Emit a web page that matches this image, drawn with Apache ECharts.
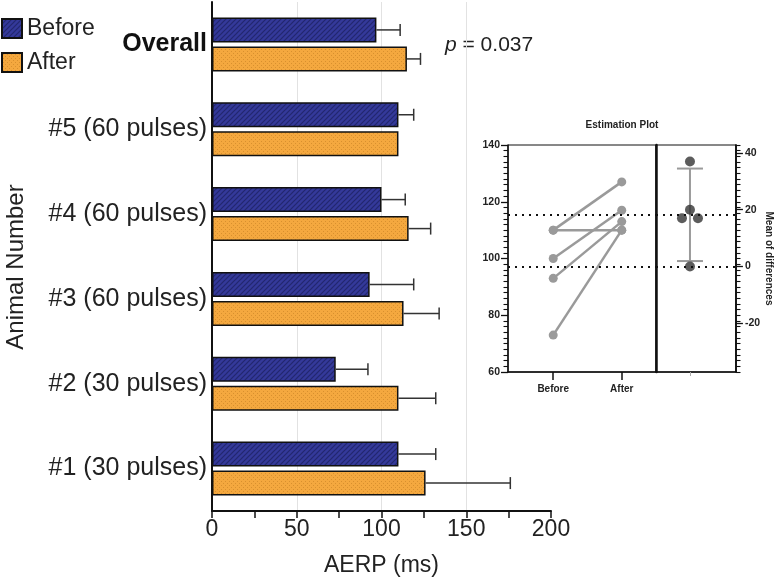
<!DOCTYPE html>
<html>
<head>
<meta charset="utf-8">
<script src="https://cdn.jsdelivr.net/npm/echarts@6/dist/echarts.min.js"></script>
<style>html,body{margin:0;padding:0;background:#fff;}#c{width:775px;height:582px;}</style>
</head>
<body>
<div id="c"></div>
<script>
// ---------- data ----------
var categories = ['Overall', '#5 (60 pulses)', '#4 (60 pulses)', '#3 (60 pulses)', '#2 (30 pulses)', '#1 (30 pulses)'];
var beforeVals = [97, 110, 100, 93, 73, 110];
var beforeErr  = [14, 9, 14, 26, 19, 22];
var afterVals  = [115, 110, 116, 113, 110, 126];
var afterErr   = [8, 0, 13, 21, 22, 50];
var xTicks = [0, 50, 100, 150, 200];

// estimation plot (animals #1..#5)
var estGroups = ['Before', 'After'];
var estBefore = [110, 73, 93, 100, 110];
var estAfter  = [127, 110, 113, 117, 110];
var estDiffs  = [17, 37, 20, 17, 0];
var meanBefore = 97.2;
var meanAfter = 115.4;
var meanDiff = 18.2;
var diffCI = [1.9, 34.5];
var leftTicks = [60, 80, 100, 120, 140];
var rightTicks = [-20, 0, 20, 40];
var pText = '0.037';

// ---------- patterns ----------
function hatch() {
  var c = document.createElement('canvas'); c.width = 5; c.height = 5;
  var g = c.getContext('2d');
  g.fillStyle = '#34399a'; g.fillRect(0, 0, 5, 5);
  g.strokeStyle = '#23276f'; g.lineWidth = 1.2;
  g.beginPath(); g.moveTo(-1, 6); g.lineTo(6, -1); g.stroke();
  g.beginPath(); g.moveTo(-1, 1); g.lineTo(1, -1); g.stroke();
  g.beginPath(); g.moveTo(4, 6); g.lineTo(6, 4); g.stroke();
  return c;
}
function dots() {
  var c = document.createElement('canvas'); c.width = 4; c.height = 4;
  var g = c.getContext('2d');
  g.fillStyle = '#f4a83f'; g.fillRect(0, 0, 4, 4);
  g.fillStyle = '#d8902e'; g.fillRect(1, 1, 1, 1); g.fillRect(3, 3, 1, 1);
  return c;
}
var beforeFill = { image: hatch(), repeat: 'repeat' };
var afterFill = { image: dots(), repeat: 'repeat' };

var FONT = 'Liberation Sans';
var BAR_W = 25, BAR_GAP = 4;

function errRender(sign) {
  return function (params, api) {
    var cat = api.value(0), v = api.value(1), e = api.value(2);
    if (!e) return;
    var p0 = api.coord([v, cat]);
    var p1 = api.coord([v + e, cat]);
    var y = p0[1] + sign * (BAR_W + BAR_GAP) / 2;
    var st = { stroke: '#333', lineWidth: 1.5 };
    return { type: 'group', children: [
      { type: 'line', shape: { x1: p0[0], y1: y, x2: p1[0], y2: y }, style: st },
      { type: 'line', shape: { x1: p1[0], y1: y - 6, x2: p1[0], y2: y + 6 }, style: st }
    ]};
  };
}

// jitter duplicates in the difference swarm
var diffSeen = {};
var diffData = estDiffs.map(function (d) {
  var n = estDiffs.filter(function (x) { return x === d; }).length;
  var k = diffSeen[d] = (diffSeen[d] || 0) + 1;
  var off = n > 1 ? (k - (n + 1) / 2) * 16 : 0;
  return { value: [0, d], symbolOffset: [off, 0] };
});

var dotted = { color: '#111', width: 2, type: [2, 5] };
var inFont = { fontFamily: FONT, fontWeight: 'bold', fontSize: 10.5, color: '#222' };
var lMin = leftTicks[0], lMax = leftTicks[leftTicks.length - 1];
var rMin = lMin - meanBefore, rMax = lMax - meanBefore;

var option = {
  animation: false,
  textStyle: { fontFamily: FONT },
  legend: {
    left: 1, top: 17, padding: 0, orient: 'vertical', itemWidth: 20, itemHeight: 19, itemGap: 11,
    icon: 'rect',
    textStyle: { fontFamily: FONT, fontSize: 23, color: '#222' },
    data: ['Before', 'After']
  },
  graphic: [
    { type: 'text', x: 16, y: 267, rotation: Math.PI / 2,
      style: { text: 'Animal Number', fontFamily: FONT, fontSize: 24, fill: '#222', align: 'center', verticalAlign: 'middle' } },
    { type: 'text', x: 445, y: 45,
      style: { text: '{i|p} = ' + pText, fontFamily: FONT, fontSize: 21, fill: '#222', verticalAlign: 'middle',
        rich: { i: { fontStyle: 'italic', fontFamily: FONT, fontSize: 21, fill: '#222' } } } },
    { type: 'text', x: 622, y: 125,
      style: { text: 'Estimation Plot', fontFamily: FONT, fontWeight: 'bold', fontSize: 10, fill: '#222', align: 'center', verticalAlign: 'middle' } }
  ],
  grid: [
    { left: 212, top: 2, width: 339, height: 510 },
    { left: 508, top: 145, width: 148, height: 227, show: true, borderColor: '#111', borderWidth: 1, backgroundColor: 'transparent' },
    { left: 656, top: 145, width: 80, height: 227, show: true, borderColor: '#111', borderWidth: 1, backgroundColor: 'transparent' },
    { left: 656, top: 145, width: 80, height: 227 }
  ],
  xAxis: [
    { gridIndex: 0, type: 'value', min: xTicks[0], max: xTicks[xTicks.length - 1], interval: 50,
      axisLine: { show: true, lineStyle: { color: '#111', width: 2 } },
      axisTick: { show: true, length: 7, lineStyle: { color: '#111', width: 1.5 } },
      minorTick: { show: true, splitNumber: 2, length: 7, lineStyle: { color: '#111', width: 1.5 } },
      splitLine: { show: true, showMinLine: false, showMaxLine: false, lineStyle: { color: '#e2e2e2', width: 1 } },
      axisLabel: { fontFamily: FONT, fontSize: 23, color: '#222', margin: 7 },
      name: 'AERP (ms)', nameLocation: 'middle', nameGap: 43,
      nameTextStyle: { fontFamily: FONT, fontSize: 23, color: '#222' } },
    { gridIndex: 1, type: 'value', min: -0.66, max: 1.5,
      axisLine: { show: true, onZero: false, lineStyle: { color: '#111', width: 1.5 } },
      axisTick: { show: true, customValues: [0, 1], length: 8, lineStyle: { color: '#111', width: 1.5 } },
      axisLabel: { show: true, customValues: [0, 1], margin: 12, formatter: function (v) { return estGroups[Math.round(v)] || ''; },
        fontFamily: FONT, fontWeight: 'bold', fontSize: 10, color: '#222' },
      splitLine: { show: false } },
    { gridIndex: 2, type: 'value', min: -0.85, max: 1.15,
      axisLine: { show: true, onZero: false, lineStyle: { color: '#111', width: 1.5 } },
      axisTick: { show: true, customValues: [0], length: 4, lineStyle: { color: '#aaa', width: 1 } },
      axisLabel: { show: false }, splitLine: { show: false } },
    { gridIndex: 3, type: 'value', min: -0.85, max: 1.15, show: false }
  ],
  yAxis: [
    { gridIndex: 0, type: 'category', inverse: true, data: categories,
      axisLine: { show: true, lineStyle: { color: '#111', width: 2 } },
      axisTick: { show: false },
      axisLabel: { fontFamily: FONT, fontSize: 25, color: '#222', margin: 5,
        formatter: function (v) { return v === 'Overall' ? '{b|' + v + '}' : v; },
        rich: { b: { fontFamily: FONT, fontSize: 25, fontWeight: 'bold', color: '#111' } } } },
    { gridIndex: 1, type: 'value', position: 'left', min: lMin, max: lMax, interval: 20,
      axisLine: { show: true, onZero: false, lineStyle: { color: '#111', width: 1.5 } },
      axisTick: { show: true, length: 7, lineStyle: { color: '#111', width: 1.3 } },
      minorTick: { show: true, splitNumber: 10, length: 4.5, lineStyle: { color: '#111', width: 1.1 } },
      axisLabel: Object.assign({ margin: 8 }, inFont),
      splitLine: { show: false } },
    { gridIndex: 2, type: 'value', position: 'right', min: rMin, max: rMax,
      axisLine: { show: true, onZero: false, lineStyle: { color: '#111', width: 1.5 } },
      axisTick: { show: true, customValues: rightTicks, length: 7, lineStyle: { color: '#111', width: 1.3 } },
      axisLabel: Object.assign({ customValues: rightTicks, margin: 9 }, inFont),
      splitLine: { show: false },
      name: 'Mean of differences', nameLocation: 'middle', nameRotate: -90, nameGap: 28,
      nameTextStyle: { fontFamily: FONT, fontWeight: 'bold', fontSize: 10, color: '#222' } },
    // minor ticks of the right axis (2-unit spacing)
    { gridIndex: 3, type: 'value', position: 'right', min: lMin, max: lMax, interval: 20,
      axisLine: { show: true, onZero: false, lineStyle: { color: '#111', width: 1.5 } },
      axisTick: { show: true, length: 4.5, lineStyle: { color: '#111', width: 1.1 } },
      minorTick: { show: true, splitNumber: 10, length: 4.5, lineStyle: { color: '#111', width: 1.1 } },
      axisLabel: { show: false }, splitLine: { show: false } },
    { gridIndex: 1, type: 'value', position: 'right', min: lMin, max: lMax,
      axisLine: { show: true, onZero: false, lineStyle: { color: '#111', width: 2.5 } },
      axisTick: { show: false }, axisLabel: { show: false }, splitLine: { show: false } }
  ],
  series: [
    { name: 'Before', type: 'bar', xAxisIndex: 0, yAxisIndex: 0, data: beforeVals,
      barWidth: BAR_W, barGap: (BAR_GAP / BAR_W * 100) + '%',
      itemStyle: { color: beforeFill, borderColor: '#111', borderWidth: 1.5 } },
    { name: 'After', type: 'bar', xAxisIndex: 0, yAxisIndex: 0, data: afterVals,
      barWidth: BAR_W, barGap: (BAR_GAP / BAR_W * 100) + '%',
      itemStyle: { color: afterFill, borderColor: '#111', borderWidth: 1.5 } },
    { type: 'custom', xAxisIndex: 0, yAxisIndex: 0, renderItem: errRender(-1), z: 5,
      data: beforeVals.map(function (v, i) { return [i, v, beforeErr[i]]; }) },
    { type: 'custom', xAxisIndex: 0, yAxisIndex: 0, renderItem: errRender(1), z: 5,
      data: afterVals.map(function (v, i) { return [i, v, afterErr[i]]; }) }
  ]
};

// paired lines
estBefore.forEach(function (b, i) {
  option.series.push({
    type: 'line', xAxisIndex: 1, yAxisIndex: 1, data: [[0, b], [1, estAfter[i]]],
    symbol: 'circle', symbolSize: 9, lineStyle: { color: '#9a9a9a', width: 2.5 },
    itemStyle: { color: '#9a9a9a' }, z: 3
  });
});
option.series[4].markLine = {
  silent: true, symbol: 'none', label: { show: false }, lineStyle: dotted,
  data: [{ yAxis: meanBefore }, { yAxis: meanAfter }]
};
// CI bar
option.series.push({
  type: 'custom', xAxisIndex: 2, yAxisIndex: 2, z: 3,
  data: [[0, diffCI[0], diffCI[1]]],
  renderItem: function (params, api) {
    var lo = api.coord([api.value(0), api.value(1)]);
    var hi = api.coord([api.value(0), api.value(2)]);
    var st = { stroke: '#9a9a9a', lineWidth: 2 };
    return { type: 'group', children: [
      { type: 'line', shape: { x1: lo[0], y1: lo[1], x2: hi[0], y2: hi[1] }, style: st },
      { type: 'line', shape: { x1: lo[0] - 13, y1: lo[1], x2: lo[0] + 13, y2: lo[1] }, style: st },
      { type: 'line', shape: { x1: hi[0] - 13, y1: hi[1], x2: hi[0] + 13, y2: hi[1] }, style: st }
    ]};
  },
  markLine: { silent: true, symbol: 'none', label: { show: false }, lineStyle: dotted,
    data: [{ yAxis: 0 }, { yAxis: meanDiff }] }
});
// differences
option.series.push({
  type: 'scatter', xAxisIndex: 2, yAxisIndex: 2, data: diffData,
  symbol: 'circle', symbolSize: 10, itemStyle: { color: '#333' }, z: 4
});

var chart = echarts.init(document.getElementById('c'), null, { renderer: 'canvas' });
chart.setOption(option);
</script>
</body>
</html>
